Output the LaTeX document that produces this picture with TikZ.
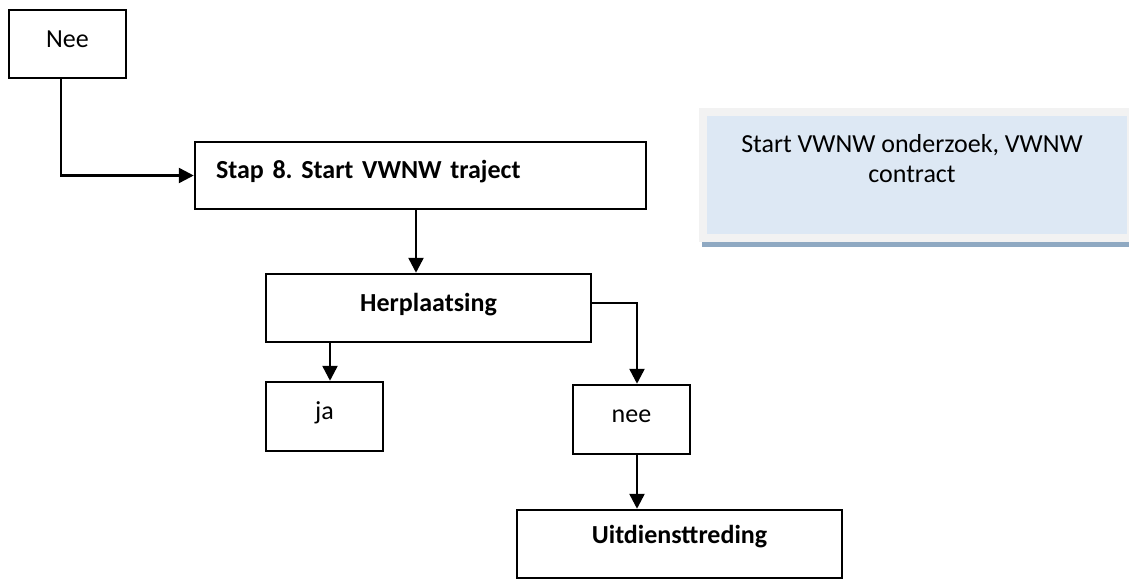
\documentclass[tikz,border=0pt]{standalone}
\usepackage{fontspec}
\setmainfont{Carlito}
\usetikzlibrary{arrows.meta}
\definecolor{infoblue}{HTML}{DDE8F4}
\definecolor{infogray}{HTML}{F2F2F2}
\definecolor{infobar}{HTML}{8FA9C2}
\frenchspacing

\begin{document}
\begin{tikzpicture}[x=1pt,y=-1pt,
    box/.style={draw=black, line width=2.5pt, minimum height=68pt, inner sep=0pt,
      text height=18pt, text depth=12pt, font=\fontsize{26}{30}\selectfont},
    boldbox/.style={box, font=\fontsize{26}{30}\selectfont\bfseries},
    infobox/.style={fill=infoblue, inner sep=0pt},
    infotext/.style={align=center, inner sep=0pt, font=\fontsize{26}{30}\selectfont},
    arr/.style={line width=2.5pt, -{Triangle[length=15pt,width=15pt]}}]
  \useasboundingbox (0,0) rectangle (1129,579);
  % boxes of the flow
  \node[box, minimum width=117pt] (nee) at (67.5,44) {Nee};
  \node[boldbox, minimum width=451pt, minimum height=67pt, text width=409pt,
    inner xsep=21pt, align=left] (stap) at (420.5,175.5) {Stap 8. Start VWNW traject};
  \node[boldbox, minimum width=325pt] (herpl) at (428.5,308) {Herplaatsing};
  \node[box, minimum width=117pt, minimum height=69pt] (ja) at (324.5,416.5) {ja};
  \node[box, minimum width=117pt, minimum height=69pt] (neeb) at (631.5,419.5) {nee};
  \node[boldbox, minimum width=325pt, text depth=20pt] (uit) at (679.5,544) {Uitdiensttreding};
  % info box on the right
  \fill[infogray] (699,108) rectangle (1129,242);
  \node[infobox, minimum width=420pt, minimum height=118pt] (info) at (917,175) {};
  \fill[infobar] (702,242) rectangle (1129,247);
  \node[infotext] (infotext) at (912,159) {Start VWNW onderzoek, VWNW\\contract};
  % connectors
  \draw[arr] ([xshift=-6.5pt]nee.south) |- (stap.west);
  \draw[arr] ([xshift=-4.5pt]stap.south) -- ([xshift=-4.5pt]stap.south |- herpl.north);
  \draw[arr] ([xshift=5.5pt]ja.north |- herpl.south) -- ([xshift=5.5pt]ja.north);
  \draw[arr] ([yshift=5pt]herpl.east) -| ([xshift=5.5pt]neeb.north);
  \draw[arr] ([xshift=5.5pt]neeb.south) -- ([xshift=5.5pt]neeb.south |- uit.north);
\end{tikzpicture}
\end{document}
